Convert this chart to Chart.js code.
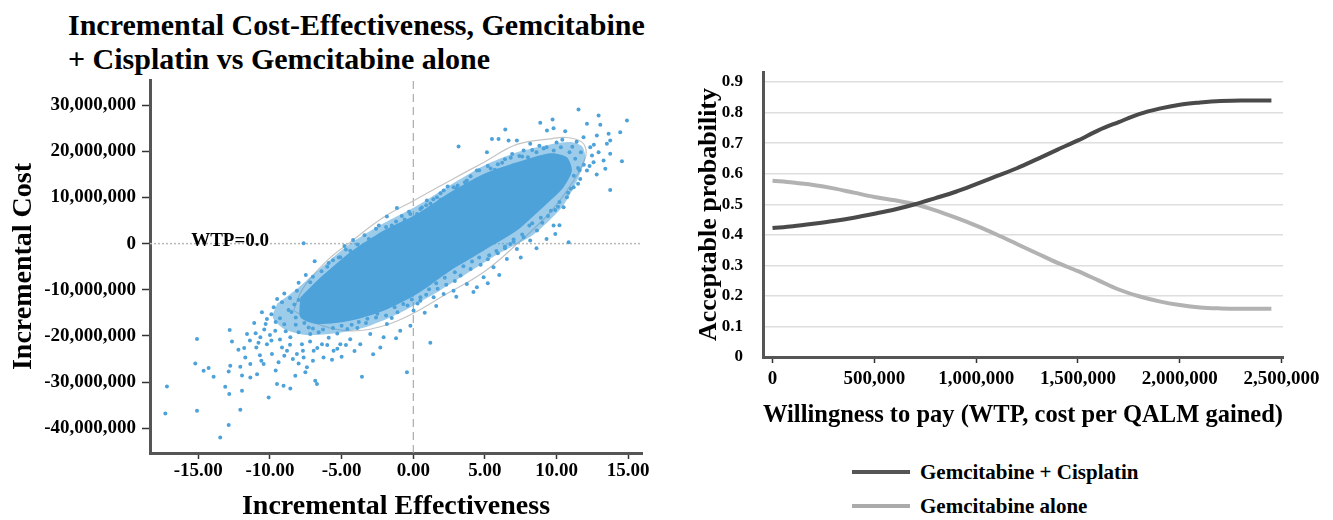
<!DOCTYPE html>
<html>
<head>
<meta charset="utf-8">
<script src="https://cdn.jsdelivr.net/npm/chart.js@4.4.1/dist/chart.umd.min.js"></script>
<style>
html,body{margin:0;padding:0;background:#fff;width:1333px;height:520px;overflow:hidden;}
#title1{position:absolute;left:68px;top:8px;font:bold 30px/34px "Liberation Serif",serif;color:#000;white-space:nowrap;}
#w1{position:absolute;left:0;top:0;width:660px;height:520px;}
#w2{position:absolute;left:680px;top:0;width:653px;height:440px;}
#leg{position:absolute;left:852px;top:455px;font:bold 21px "Liberation Serif",serif;color:#000;}
.li{display:flex;align-items:center;height:34px;white-space:nowrap;}
.sw{width:58px;height:4px;margin-right:10px;}
</style>
</head>
<body>
<div id="title1">Incremental Cost-Effectiveness, Gemcitabine<br>+ Cisplatin vs Gemcitabine alone</div>
<div id="w1"><canvas id="c1"></canvas></div>
<div id="w2"><canvas id="c2"></canvas></div>
<div id="leg"></div>
<script>
// ---------- Left chart data (effectiveness, cost in millions) ----------
const effRange = [-18.37, 15.96];
const costRangeM = [-45.38, 35.46];
const effTickValues = [-15,-10,-5,0,5,10,15];
const costTickValuesM = [-40,-30,-20,-10,0,10,20,30];

// dense core of the simulation cloud (outline)
const coreEff  = [-7.88,-6.72,-4.40,-2.07,0.26,2.58,4.91,7.23,9.56,10.72,11.07,10.49,9.56,7.23,4.91,2.58,0.26,-2.07,-4.40,-6.72,-7.88,-7.88];
const coreCost = [-11.64,-8.03,-1.88,2.82,6.44,11.14,15.11,17.64,19.6,18.73,15.84,12.22,9.33,2.82,-1.52,-5.86,-10.92,-14.53,-16.7,-17.43,-15.98,-11.64];

// speckled halo around the core
const haloEff  = [-9.5,-8.0,-6.72,-4.4,-2.07,0.26,2.58,4.91,7.23,9.56,11.0,11.8,12.0,11.4,10.4,8.4,6.07,3.74,1.42,-0.91,-3.23,-5.56,-7.5,-9.0,-9.8,-9.5];
const haloCost = [-13.0,-9.5,-6.0,0.0,4.4,8.2,12.7,16.9,19.8,21.5,22.0,21.0,18.5,13.5,8.0,2.0,-2.0,-6.5,-11.0,-15.0,-18.0,-19.5,-19.8,-18.5,-16.0,-13.0];

// confidence ellipse
const ellipseEff  = [-8.35,-7.65,-6.02,-4.40,-2.07,0.02,2.58,4.91,7.23,9.56,10.72,11.77,12.07,11.88,11.2,9.56,7.2,4.9,2.1,0.0,-2.07,-4.4,-6.7,-8.35];
const ellipseCost = [-14.5,-9.5,-3.7,0.3,5.7,9.3,13.7,17.6,21.5,22.7,23.0,22.0,19.8,17.6,13.7,6.8,-0.2,-6.2,-11.3,-15.1,-17.8,-18.9,-17.4,-14.5];

// individual simulation points [effectiveness, cost (millions)]
const ptsUpperRight = [[11.53,29.07],[12.93,27.77],[14.91,26.68],[12.12,25.96],[13.05,25.74],[8.86,26.18],[9.72,26.9],[9.79,25.02],[6.42,24.73],[10.6,24.37],[14.44,24.15],[13.63,23.79],[12.81,23.43],[11.88,23.07],[13.74,22.34],[13.51,21.62],[12.35,20.9],[12.93,19.81],[13.74,19.45],[12.47,19.09],[13.28,18.0],[14.56,17.86],[12.58,17.64],[13.4,16.2],[12.12,15.84],[11.65,14.03],[11.19,12.22],[13.74,11.64],[10.72,10.05],[10.49,7.88],[9.91,2.1],[10.84,0.29],[9.79,3.9],[5.49,22.7],[5.95,22.7],[6.65,22.34],[3.16,21.04],[5.14,19.81],[7.23,22.34],[8.16,21.62],[7.7,20.17],[9.33,24.51]];
const ptsLowerLeft = [[-17.19,-30.95],[-17.3,-36.8],[-15.09,-36.23],[-15.21,-25.96],[-15.09,-20.68],[-13.47,-42.0],[-12.88,-39.3],[-12.07,-36.0],[-12.84,-32.6],[-11.95,-31.9],[-13.12,-31.0],[-14.63,-27.55],[-14.28,-26.97],[-13.93,-28.85],[-12.88,-27.7],[-12.77,-26.46],[-12.07,-26.68],[-12.81,-18.73],[-12.65,-21.19],[-11.6,-19.6],[-11.72,-24.66],[-11.37,-26.1],[-10.95,-22.49],[-10.67,-20.32],[-10.56,-14.9],[-9.74,-13.81],[-9.16,-12.73],[-10.21,-16.34],[-10.09,-33.33],[-9.05,-30.8],[-8.58,-31.38],[-9.51,-30.44],[-8.23,-28.63],[-7.53,-27.9],[-6.72,-30.44],[-6.84,-29.7],[-5.67,-25.16],[-6.26,-24.66],[-6.95,-23.2],[-7.42,-26.8],[-7.65,-24.66],[-8.12,-23.9],[-8.81,-23.2],[-9.4,-25.7],[-9.16,-22.5],[-9.86,-23.9],[-10.44,-26.1],[-10.9,-28.3],[-11.37,-29.0],[-11.95,-28.6],[-10.21,-21.8],[-9.63,-18.9],[-8.58,-20.3],[-7.77,-21.8],[-7.19,-19.6],[-6.37,-21.8],[-5.56,-23.2],[-5.09,-21.8],[-4.4,-20.7],[-3.7,-21.8],[-3.58,-28.85],[-2.3,-22.5],[-3.0,-19.6],[-2.07,-20.3],[-1.84,-17.4],[-0.91,-18.9],[-0.44,-27.9],[1.19,-21.5],[0.02,-14.5],[0.49,-12.4],[1.42,-11.6],[2.12,-10.9],[2.81,-10.2],[3.74,-8.75],[4.44,-9.47],[4.91,-7.3],[5.6,-5.13],[6.53,-3.33],[7.23,-1.16],[8.16,0.65],[6.77,-0.07],[8.63,2.82]];
const ptsTail = [[-9.0,-17.5],[-9.6,-17.0],[-10.0,-19.8],[-9.3,-20.8],[-8.6,-21.9],[-8.0,-19.2],[-7.2,-21.2],[-6.7,-22.6],[-6.0,-22.0],[-5.3,-22.8],[-4.7,-22.0],[-7.7,-23.2],[-8.4,-25.0],[-9.0,-24.3],[-10.8,-21.5],[-11.0,-19.4],[-10.3,-17.4],[-11.8,-22.6],[-10.6,-25.4],[-9.9,-21.0]];
const ptsUpperEdge = [[-7.65,0.07],[-6.88,-3.83],[-8.12,-10.2],[-7.19,-8.39],[-6.26,-7.66],[-5.09,-2.96],[-4.4,-1.52],[-3.7,-0.8],[-3.0,-0.07],[-2.07,1.37],[-1.84,5.86],[-1.14,7.74],[-0.21,6.44],[0.26,6.44],[0.95,9.33],[1.65,10.05],[2.12,11.5],[2.81,12.22],[3.74,13.67],[4.91,14.39],[4.44,15.84],[-9.5,-12.0],[-9.0,-10.8],[-8.6,-11.8],[-8.0,-8.5],[-7.5,-6.8],[-6.0,-5.0],[-5.6,-3.6],[-4.8,-0.5],[-4.2,0.8],[-3.4,1.8],[-2.6,3.2],[-1.5,3.9],[-0.6,5.2],[0.6,7.8],[1.2,8.7],[1.9,9.5],[3.1,12.6],[3.4,11.8],[4.2,13.2],[5.4,16.3],[5.9,17.2],[6.4,18.3],[6.9,19.4],[7.6,18.9],[8.3,20.3],[8.8,21.2],[9.3,20.9],[10.0,21.9],[10.4,22.5],[11.1,21.0],[11.4,22.1],[11.7,19.8],[11.9,17.1],[11.5,16.4],[11.2,14.7],[12.3,16.8],[12.8,15.0],[12.6,21.4],
  [-7.0,-7.2],[-6.4,-6.0],[-5.9,-4.2],[-5.2,-3.0],[-4.7,-1.3],[-3.9,-0.2],[-3.1,1.0],[-2.4,3.9],[-1.9,3.6],[-1.2,4.8],[-0.8,6.0],[-0.3,6.9],[0.5,7.5],[0.9,8.3],[1.4,9.6],[1.9,10.9],[2.4,12.4],[3.0,12.0],[3.6,13.3],[4.0,14.6],[4.6,15.9],[5.2,16.8],[5.7,16.0],[6.2,17.5],[6.8,18.6],[7.4,19.0],[8.0,18.7],[8.6,19.8],[9.1,20.6],[9.8,20.2],[10.3,20.9],[10.9,19.8],[11.3,18.4],[11.6,15.9],[11.5,13.0],[11.0,11.9]];
const ptsLowerEdge = [[10.8,11.0],[10.2,9.0],[9.9,7.3],[9.4,6.0],[9.0,4.5],[8.1,3.9],[7.7,1.4],[7.0,0.9],[6.4,-1.0],[5.9,-2.1],[5.2,-3.4],[4.7,-4.6],[4.0,-5.5],[3.3,-6.9],[2.9,-8.1],[2.3,-8.9],[1.7,-9.8],[0.9,-11.1],[0.3,-13.0],[-0.4,-13.4],[-1.1,-14.9],[-1.5,-16.1],[-2.6,-16.0],[-3.3,-17.2],[-3.9,-18.3],[-4.6,-18.5],[-5.3,-19.5],[-5.9,-20.4],[-6.6,-19.2],[-7.3,-18.2],[-8.2,-17.6],[-8.9,-19.0],[-9.3,-16.2],[-8.7,-14.4],[-9.9,-15.3],[-10.4,-18.6],[-11.1,-17.2],[-11.4,-21.0],[-12.2,-23.0],[-10.7,-24.2],[-9.6,-27.5],[-8.0,-26.0],[-7.0,-25.4],[-5.0,-24.5],[-4.1,-23.3],[-2.8,-24.0],[-1.2,-20.5],[-0.2,-17.8],[0.8,-15.0],[1.6,-13.5],[3.0,-11.5],[4.2,-10.5],[5.2,-8.6],[6.0,-6.8],[7.5,-3.0],[8.6,-1.0],[9.3,1.0],[10.2,4.0],
  [10.1,8.0],[9.6,7.1],[8.9,5.6],[8.3,4.4],[7.6,2.0],[7.0,0.4],[6.4,-0.6],[5.8,-1.6],[5.3,-2.5],[4.6,-3.0],[4.1,-3.9],[3.5,-4.9],[2.9,-6.2],[2.2,-7.4],[1.6,-8.6],[1.1,-9.9],[0.5,-11.6],[-0.1,-12.1],[-0.7,-13.1],[-1.3,-13.8],[-1.9,-15.6],[-2.5,-15.2],[-3.2,-16.3],[-3.8,-17.0],[-4.3,-17.6],[-5.0,-17.8],[-5.6,-18.3],[-6.3,-18.6],[-7.0,-18.4],[-7.6,-17.2],[-8.2,-16.0],[-8.5,-14.8],[-8.3,-13.2],[-8.0,-12.2]];

const wtpLabel = {text:'WTP=0.0', eff:-15.5, costM:0};

// ---------- Right chart data ----------
const wtpValues = [0,100000,200000,300000,400000,500000,600000,700000,800000,900000,1000000,1100000,1200000,1300000,1400000,1500000,1600000,1700000,1800000,1900000,2000000,2100000,2200000,2300000,2400000,2450000];
const probGemCis   = [0.422,0.428,0.436,0.445,0.456,0.469,0.483,0.500,0.520,0.541,0.566,0.592,0.618,0.648,0.679,0.709,0.742,0.769,0.795,0.813,0.826,0.833,0.838,0.840,0.840,0.840];
const probGemAlone = [0.577,0.571,0.563,0.552,0.538,0.524,0.513,0.500,0.480,0.456,0.430,0.401,0.370,0.339,0.308,0.281,0.251,0.221,0.199,0.182,0.170,0.162,0.159,0.158,0.158,0.158];
const seriesLabels = ['Gemcitabine + Cisplatin','Gemcitabine alone'];
const seriesColors = ['#4a4a4a','#b2b2b2'];
const wtpRange = [-46700, 2507000];
const probRange = [0, 0.933];
const wtpTickValues = [0,500000,1000000,1500000,2000000,2500000];
const probTickValues = [0,0.1,0.2,0.3,0.4,0.5,0.6,0.7,0.8,0.9];

// ---------- helpers ----------
const M = 1e6;
const xy = (xs, ys, k) => xs.map((x,i)=>({x:x, y:ys[i]*k}));
const pairs = (arr) => arr.map(p=>({x:p[0], y:p[1]*M}));
const setTicks = (vals) => (s) => { s.ticks = vals.map(v=>({value:v})); };
const serif = 'Liberation Serif';
const BLUE = '#4da2da';

const wtpPlugin = {
  id:'wtpLabel',
  afterDatasetsDraw(chart){
    const {ctx, scales:{x,y}} = chart;
    ctx.save();
    ctx.font = 'bold 19px "'+serif+'"';
    ctx.fillStyle = '#000';
    ctx.textAlign = 'left';
    ctx.textBaseline = 'middle';
    ctx.fillText(wtpLabel.text, x.getPixelForValue(wtpLabel.eff), y.getPixelForValue(wtpLabel.costM*M)-3);
    ctx.restore();
  }
};

new Chart(document.getElementById('c1'), {
  type:'scatter',
  data:{datasets:[
    {type:'scatter', data:[...pairs(ptsUpperRight),...pairs(ptsLowerLeft),...pairs(ptsTail),...pairs(ptsUpperEdge),...pairs(ptsLowerEdge)],
     backgroundColor:BLUE, borderWidth:0, pointRadius:2, order:1},
    {type:'line', data:xy(coreEff,coreCost,M), borderWidth:0, borderColor:BLUE, backgroundColor:BLUE,
     fill:'shape', pointRadius:0, tension:0.25, order:2},
    {type:'line', data:xy(haloEff,haloCost,M), borderWidth:0, borderColor:'rgba(77,162,218,0)', backgroundColor:'rgba(77,162,218,0.55)',
     fill:'shape', pointRadius:0, tension:0.25, order:3},
    {type:'line', data:xy(ellipseEff,ellipseCost,M), borderWidth:1.2, borderColor:'#c4c4c4', fill:false,
     pointRadius:0, tension:0.4, order:4},
    {type:'line', data:[{x:0,y:costRangeM[0]*M},{x:0,y:costRangeM[1]*M}], borderWidth:1, borderColor:'#9a9a9a',
     borderDash:[8,5], pointRadius:0, fill:false, order:5},
    {type:'line', data:[{x:effRange[0],y:0},{x:effRange[1],y:0}], borderWidth:1.5, borderColor:'#b8b8b8',
     borderDash:[2,2], pointRadius:0, fill:false, order:6}
  ]},
  options:{
    responsive:true, maintainAspectRatio:false, animation:false,
    layout:{padding:{left:0,top:80,right:18,bottom:0}},
    plugins:{legend:{display:false}, tooltip:{enabled:false}, title:{display:false}},
    scales:{
      x:{type:'linear', min:effRange[0], max:effRange[1],
        border:{display:true,color:'#555',width:3},
        grid:{drawOnChartArea:false,drawTicks:true,tickLength:6,tickColor:'#333',tickWidth:1.5},
        ticks:{padding:1,color:'#000',maxRotation:0,autoSkip:false,
          font:{family:serif,size:19,weight:'bold'}, callback:v=>Number(v).toFixed(2)},
        afterBuildTicks:setTicks(effTickValues),
        title:{display:true,text:'Incremental Effectiveness',color:'#000',
          font:{family:serif,size:28,weight:'bold'},padding:{top:0,bottom:-4}},
        afterFit:s=>{s.height=67;}
      },
      y:{type:'linear', min:costRangeM[0]*M, max:costRangeM[1]*M,
        border:{display:true,color:'#555',width:3},
        grid:{drawOnChartArea:false,drawTicks:true,tickLength:8,tickColor:'#333',tickWidth:1.5},
        ticks:{padding:6,color:'#000',autoSkip:false,
          font:{family:serif,size:19,weight:'bold'}, callback:v=>Number(v).toLocaleString('en-US')},
        afterBuildTicks:setTicks(costTickValuesM.map(v=>v*M)),
        title:{display:true,text:'Incremental Cost',color:'#000',
          font:{family:serif,size:28,weight:'bold'},padding:{top:7,bottom:0}},
        afterFit:s=>{s.width=150;}
      }
    }
  },
  plugins:[wtpPlugin]
});

new Chart(document.getElementById('c2'), {
  type:'line',
  data:{datasets:[
    {label:seriesLabels[0], data:xy(wtpValues,probGemCis,1), borderColor:seriesColors[0], borderWidth:4,
     pointRadius:0, fill:false, cubicInterpolationMode:'monotone'},
    {label:seriesLabels[1], data:xy(wtpValues,probGemAlone,1), borderColor:seriesColors[1], borderWidth:4,
     pointRadius:0, fill:false, cubicInterpolationMode:'monotone'}
  ]},
  options:{
    responsive:true, maintainAspectRatio:false, animation:false,
    layout:{padding:{left:0,top:72,right:50,bottom:0}},
    plugins:{legend:{display:false}, tooltip:{enabled:false}},
    scales:{
      x:{type:'linear', min:wtpRange[0], max:wtpRange[1],
        border:{display:true,color:'#555',width:3},
        grid:{drawOnChartArea:false,drawTicks:true,tickLength:6,tickColor:'#333',tickWidth:1.5},
        ticks:{padding:5,color:'#000',maxRotation:0,autoSkip:false,
          font:{family:serif,size:19,weight:'bold'}, callback:v=>Number(v).toLocaleString('en-US')},
        afterBuildTicks:setTicks(wtpTickValues),
        title:{display:true,text:'Willingness to pay (WTP, cost per QALM gained)',color:'#000',
          font:{family:serif,size:26,weight:'bold'},padding:{top:0,bottom:9}},
        afterFit:s=>{s.height=83;}
      },
      y:{type:'linear', min:probRange[0], max:probRange[1],
        border:{display:true,color:'#555',width:3},
        grid:{drawOnChartArea:true,drawTicks:false,color:'#dedede',lineWidth:1.5},
        ticks:{padding:20,color:'#000',autoSkip:false,
          font:{family:serif,size:17,weight:'bold'}, callback:v=>String(Number(Number(v).toFixed(1)))},
        afterBuildTicks:setTicks(probTickValues),
        title:{display:true,text:'Acceptable probability',color:'#000',
          font:{family:serif,size:26,weight:'bold'},padding:{top:14,bottom:0}},
        afterFit:s=>{s.width=83;}
      }
    }
  }
});

// HTML legend built from the series labels/colours
const leg = document.getElementById('leg');
seriesLabels.forEach((lab,i)=>{
  const row = document.createElement('div'); row.className='li';
  const sw = document.createElement('div'); sw.className='sw'; sw.style.background = i===0 ? '#555' : '#ababab';
  const tx = document.createElement('span'); tx.textContent = lab;
  row.appendChild(sw); row.appendChild(tx); leg.appendChild(row);
});
</script>
</body>
</html>
